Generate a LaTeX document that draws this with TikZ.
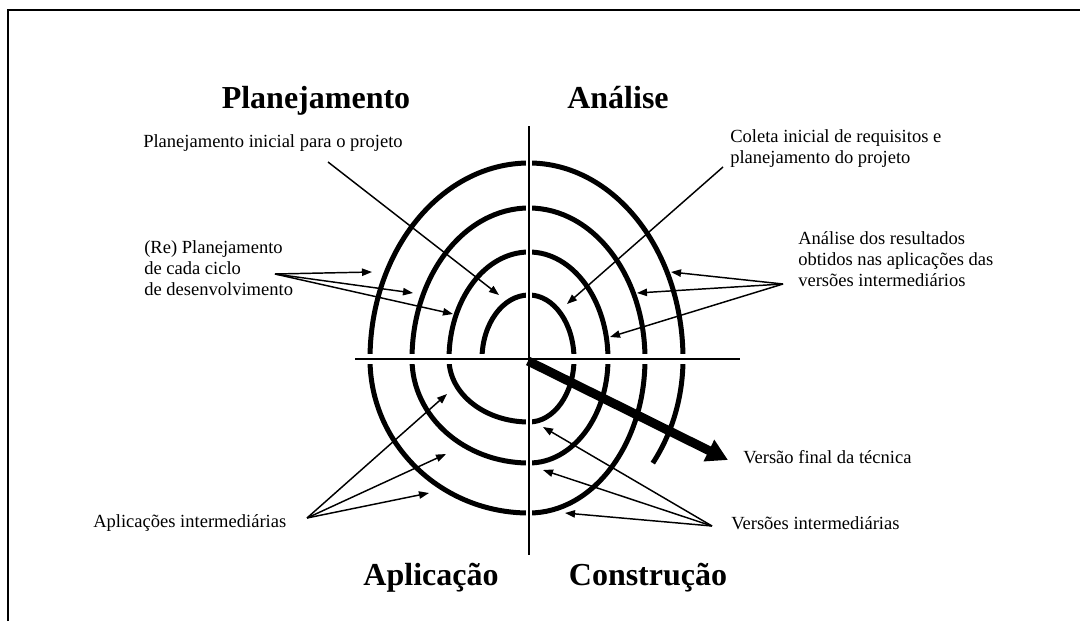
\documentclass[tikz,border=0pt]{standalone}
\usepackage{fontspec}
\setmainfont{Liberation Serif}
\usetikzlibrary{arrows.meta}
\begin{document}
\begin{tikzpicture}[x=0.75pt,y=-0.75pt,
  spiral/.style={line width=3.75pt, line cap=butt},
  axisline/.style={line width=1.5pt},
  vhalo/.style={white, line width=4.5pt},
  hhalo/.style={white, line width=7pt},
  note/.style={line width=1.1pt, -{Triangle[length=7.5pt,width=5.5pt]}},
  bigarrow/.style={line width=6.8pt, line cap=butt, -{Triangle[length=16pt,width=17pt]}},
  lbl/.style={font=\fontsize{13.9}{15.75}\selectfont, inner sep=0pt, align=left},
  head/.style={font=\fontsize{24}{28}\selectfont\bfseries, inner sep=0pt}]
\useasboundingbox (0,0) rectangle (1080,621);
\fill[white] (0,0) rectangle (1080,621);
\draw[line width=1.6pt] (8,621) -- (8,10) -- (1080,10);

% spiral
\draw[spiral] (482,359)
  arc[start angle=180,end angle=270,x radius=47,y radius=64]
  arc[start angle=270,end angle=360,x radius=45,y radius=64]
  arc[start angle=0,end angle=90,x radius=45,y radius=63]
  arc[start angle=90,end angle=180,x radius=80,y radius=63]
  arc[start angle=180,end angle=270,x radius=80,y radius=107]
  arc[start angle=270,end angle=360,x radius=79,y radius=107]
  arc[start angle=0,end angle=90,x radius=79,y radius=104]
  arc[start angle=90,end angle=180,x radius=117,y radius=104]
  arc[start angle=180,end angle=270,x radius=117,y radius=151]
  arc[start angle=270,end angle=360,x radius=116,y radius=151]
  arc[start angle=0,end angle=90,x radius=116,y radius=154]
  arc[start angle=90,end angle=180,x radius=159,y radius=154]
  arc[start angle=180,end angle=270,x radius=159,y radius=196]
  arc[start angle=270,end angle=360,x radius=154,y radius=196]
  arc[start angle=0,end angle=36.5,x radius=154,y radius=175];

% axes
\coordinate (vTop) at (529,126);
\coordinate (vBot) at (529,555);
\coordinate (hL) at (355,359);
\coordinate (hR) at (740,359);
\draw[vhalo] (vTop) -- (vBot);
\draw[hhalo] (hL) -- (hR);
\draw[axisline] (vTop) -- (vBot);
\draw[axisline] (hL) -- (hR);

% headings
\node[head, anchor=base] (hPlan) at (316,108) {Planejamento};
\node[head, anchor=base] (hAna) at (618,108) {Análise};
\node[head, anchor=base] (hApl) at (431,585) {Aplicação};
\node[head, anchor=base] (hCon) at (648,585) {Construção};

% labels (multi-line nodes: base = last line)
\node[lbl, anchor=base west] (tPlan) at (143,147) {Planejamento inicial para o projeto};
\node[lbl, anchor=base west] (tRe) at (144,295) {(Re) Planejamento\\de cada ciclo\\de desenvolvimento};
\node[lbl, anchor=base west] (tCol) at (730,163) {Coleta inicial de requisitos e\\planejamento do projeto};
\node[lbl, anchor=base west] (tAna) at (798,286) {Análise dos resultados\\obtidos nas aplicações das\\versões intermediários};
\node[lbl, anchor=base west] (tApl) at (93,527) {Aplicações intermediárias};
\node[lbl, anchor=base west] (tVf) at (743,463) {Versão final da técnica};
\node[lbl, anchor=base west] (tVi) at (731,529) {Versões intermediárias};

% annotation arrows
\coordinate (pA) at (328,162);  \coordinate (pT) at (499,295);
\coordinate (rA) at (275,274);
\coordinate (rT1) at (372,272); \coordinate (rT2) at (413,293); \coordinate (rT3) at (453,314);
\coordinate (cA) at (723,167);  \coordinate (cT) at (567,304);
\coordinate (aA) at (783,284);
\coordinate (aT1) at (671,272); \coordinate (aT2) at (637,293); \coordinate (aT3) at (610,337);
\coordinate (apA) at (307,518);
\coordinate (apT1) at (429,493); \coordinate (apT2) at (446,454); \coordinate (apT3) at (447,394);
\coordinate (vA) at (712,526);
\coordinate (vT1) at (565,513); \coordinate (vT2) at (543,470); \coordinate (vT3) at (543,427);

\draw[note] (pA) -- (pT);
\draw[note] (rA) -- (rT1);
\draw[note] (rA) -- (rT2);
\draw[note] (rA) -- (rT3);
\draw[note] (cA) -- (cT);
\draw[note] (aA) -- (aT1);
\draw[note] (aA) -- (aT2);
\draw[note] (aA) -- (aT3);
\draw[note] (apA) -- (apT1);
\draw[note] (apA) -- (apT2);
\draw[note] (apA) -- (apT3);
\draw[note] (vA) -- (vT1);
\draw[note] (vA) -- (vT2);
\draw[note] (vA) -- (vT3);

% final version arrow
\coordinate (fS) at (528,361);
\coordinate (fT) at (728,460);
\draw[bigarrow] (fS) -- (fT);
\end{tikzpicture}
\end{document}
